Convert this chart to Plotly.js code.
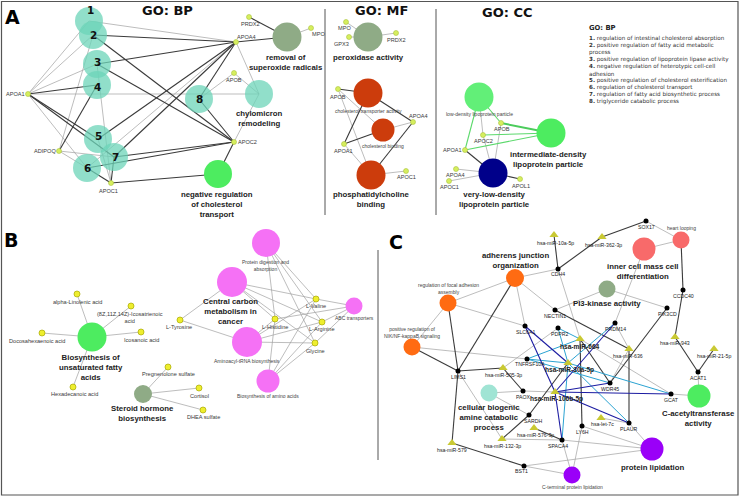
<!DOCTYPE html>
<html><head><meta charset="utf-8">
<script src="https://cdn.plot.ly/plotly-3.0.1.min.js"></script>
<style>html,body{margin:0;padding:0;background:#fff}#chart{width:740px;height:497px}</style>
</head><body><div id="chart"></div>
<script>
// ================= DATA =================
// Term (enriched category) nodes
const termIds = ['bp1','bp2','bp3','bp4','bp5','bp6','bp7','bp8','bpChylo','bpSuper','bpNegChol',
  'mfPerox','mfTrans','mfBind','mfPhos','ccLDL','ccIDL','ccVLDL',
  'bUnsat','bSteroid','bProtein','bCentral','bAminoacyl','bAminoBio','bABC',
  'cAdh','cFocal','cNik','cICM','cHeart','cPI3K','cBiogenic','cAcetyl','cLipid','cCterm'];
const termX = [89,93,97,97,98,87,114,199,259,287,218, 368,368,383,371, 479,551,493,
  92,143,266,232,247,268,354, 515,448,412,644,681,607,489,699,652,572];
const termY = [21,35,64,85,139,168,157,99,94,37,174, 37,93,130,175, 97,133,173,
  337,394,243,282,342,381,306, 278,303,347,249,240,289,393,396,449,475];
const termGroup = ['teal','teal','teal','teal','teal','teal','teal','teal','teal','sage','green',
  'sage','rust','rust','rust','lgreen','green','navy',
  'green','sage','magenta','magenta','magenta','magenta','magenta',
  'orange','orange','orange','salmon','salmon','sage','lteal','green','purple','purple'];
const termDiam = [28,28,28,28,28,28,28,28,28,29,28, 29,29,23,29, 29,29,29,
  29,18,28,30,30,23,17, 18,17,17,23,17,17,17,23,23,17];

// Gene nodes of panel A (GO)
const goGeneIds = ['bpAPOA1','bpAPOA4','bpAPOB','bpAPOC2','bpAPOC1','bpADIPOQ','bpPRDX2','bpMPO',
  'mfMPO','mfGPX3','mfPRDX2','mfAPOB','mfAPOA4','mfAPOA1','mfAPOC1',
  'ccAPOB','ccAPOC2','ccAPOA1','ccAPOA4','ccAPOC1','ccAPOL1'];
const goGeneX = [28,236,234,234,111,59,249,311, 346,349,396,338,413,344,406, 501,483,465,456,449,520];
const goGeneY = [94,42,73,142,183,151,17,28, 22,37,33,89,122,144,171, 123,135,150,169,181,179];

// Metabolite nodes of panel B
const metIds = ['bAlpha','bIcosatri','bDocosa','bIcosanoic','bHexadec','bPreg','bCortisol','bDHEA',
  'bTyr','bVal','bHis','bArg','bGly'];
const metX = [77,131,42,141,73,168,199,203,180,316,275,322,315];
const metY = [294,306,333,332,387,367,388,410,320,299,319,322,343];

// Gene nodes of panel C
const cGeneIds = ['SOX17','CDH4','NECTIN1','SLC6A1','PDPR2','PRDM14','PIK3CD','CCDC40','TNFRSF10A','LIMS1',
  'PAOX','SARDH','WDR45','GCAT','ACAT1','LY6H','PLAUR','SPACA4','BST1'];
const cGeneX = [646,558,555,525,558,615,667,683,527,458,523,529,610,671,698,582,629,562,524];
const cGeneY = [221,269,310,326,328,323,308,290,359,371,391,415,383,394,372,426,423,440,466];

// miRNA nodes of panel C
const mirIds = ['m10a','m362','m943','m21','m636','m664','m30a','m106b','m505','m576','m132','m579','let7c'];
const mirX = [554,602,675,714,629,580,568,555,503,534,502,452,601];
const mirY = [235,237,337,349,349,339,363,392,368,428,439,443,418];

// Edges: [from, to, kind]  kind: k=dark, l=light, g=green, G=green thick, b=navy, c=cyan
const edgesBP = [
  ['bpAPOA1','bp1','l'],['bpAPOA1','bp2','l'],['bpAPOA1','bp3','l'],['bpAPOA1','bp4','k'],['bpAPOA1','bp5','k'],
  ['bpAPOA1','bp6','l'],['bpAPOA1','bp7','k'],['bpAPOA1','bpChylo','l'],
  ['bpAPOA4','bp1','l'],['bpAPOA4','bp2','k'],['bpAPOA4','bp3','k'],['bpAPOA4','bp5','k'],['bpAPOA4','bp6','l'],
  ['bpAPOA4','bp7','k'],['bpAPOA4','bp8','k'],['bpAPOA4','bpChylo','l'],['bpAPOA4','bpSuper','k'],
  ['bpAPOC2','bp2','k'],['bpAPOC2','bp3','k'],['bpAPOC2','bp6','k'],['bpAPOC2','bp7','k'],['bpAPOC2','bp8','k'],
  ['bpAPOC2','bpChylo','l'],['bpAPOC2','bpNegChol','k'],
  ['bpAPOB','bp8','l'],['bpAPOB','bpChylo','l'],
  ['bpAPOC1','bp3','l'],['bpAPOC1','bp5','l'],['bpAPOC1','bp6','k'],['bpAPOC1','bp7','k'],['bpAPOC1','bpNegChol','k'],
  ['bpADIPOQ','bp2','l'],['bpADIPOQ','bp4','k'],['bpADIPOQ','bp6','l'],['bpADIPOQ','bp7','l'],
  ['bpPRDX2','bpSuper','k'],['bpMPO','bpSuper','l']];
const edgesMF = [
  ['mfMPO','mfPerox','l'],['mfGPX3','mfPerox','l'],['mfPRDX2','mfPerox','l'],
  ['mfAPOB','mfTrans','k'],['mfAPOA1','mfTrans','k'],['mfAPOA4','mfTrans','k'],['mfAPOA1','mfBind','k'],
  ['mfAPOA4','mfBind','l'],['mfAPOA1','mfPhos','l'],['mfAPOA4','mfPhos','k'],['mfAPOC1','mfPhos','l'],
  ['mfAPOB','mfBind','l'],['mfAPOB','mfPhos','l']];
const edgesCC = [
  ['ccAPOB','ccIDL','G'],['ccAPOC2','ccIDL','g'],['ccAPOA1','ccIDL','g'],['ccAPOB','ccLDL','g'],['ccAPOA1','ccLDL','g'],
  ['ccAPOC2','ccLDL','l'],['ccAPOA1','ccVLDL','k'],['ccAPOA4','ccVLDL','l'],['ccAPOC1','ccVLDL','l'],
  ['ccAPOL1','ccVLDL','k'],['ccAPOB','ccVLDL','l'],['ccAPOC2','ccVLDL','l']];
const edgesB = [
  ['bUnsat','bAlpha','l'],['bUnsat','bIcosatri','l'],['bUnsat','bDocosa','l'],['bUnsat','bIcosanoic','l'],['bUnsat','bHexadec','l'],
  ['bSteroid','bPreg','l'],['bSteroid','bCortisol','l'],['bSteroid','bDHEA','l'],
  ['bTyr','bCentral','l'],['bTyr','bAminoacyl','l'],
  ['bVal','bProtein','l'],['bVal','bCentral','l'],['bVal','bAminoacyl','l'],['bVal','bAminoBio','l'],['bVal','bABC','l'],
  ['bHis','bProtein','l'],['bHis','bCentral','l'],['bHis','bAminoacyl','l'],['bHis','bAminoBio','l'],['bHis','bABC','l'],
  ['bArg','bProtein','l'],['bArg','bCentral','l'],['bArg','bAminoacyl','l'],['bArg','bAminoBio','l'],['bArg','bABC','l'],
  ['bGly','bProtein','l'],['bGly','bCentral','l'],['bGly','bAminoacyl','l'],['bGly','bAminoBio','l'],['bGly','bABC','l']];
const edgesC = [
  ['cAdh','CDH4','l'],['cAdh','NECTIN1','l'],['cAdh','SLC6A1','l'],['cAdh','LIMS1','k'],['cAdh','cFocal','l'],
  ['cFocal','SLC6A1','l'],['cFocal','LIMS1','k'],['cFocal','cNik','l'],['cNik','LIMS1','k'],['cNik','TNFRSF10A','l'],
  ['LIMS1','m505','k'],['LIMS1','m132','l'],['LIMS1','m579','k'],['m505','PAOX','k'],['m505','PDPR2','l'],
  ['PAOX','cBiogenic','l'],['SARDH','cBiogenic','l'],['PAOX','m106b','l'],['SARDH','m132','k'],['SARDH','m30a','k'],
  ['m132','SPACA4','l'],['m576','SPACA4','k'],['m579','BST1','k'],
  ['BST1','cLipid','l'],['BST1','cCterm','l'],['SPACA4','cCterm','l'],['SPACA4','cLipid','l'],['LY6H','cCterm','l'],
  ['LY6H','cLipid','l'],['PLAUR','cLipid','l'],['let7c','PLAUR','l'],
  ['m10a','CDH4','k'],['CDH4','m664','l'],['m664','LY6H','k'],['m362','SOX17','k'],['m362','CDH4','k'],
  ['SOX17','cHeart','l'],['cICM','cHeart','l'],['cHeart','CCDC40','k'],['CCDC40','m943','k'],['m943','ACAT1','k'],
  ['m21','ACAT1','k'],['ACAT1','cAcetyl','l'],['GCAT','cAcetyl','l'],['cICM','PRDM14','l'],['cPI3K','PIK3CD','l'],
  ['cPI3K','NECTIN1','l'],['PIK3CD','WDR45','k'],['NECTIN1','m636','k'],['PRDM14','m636','l'],['m636','PLAUR','k'],
  ['m636','WDR45','l'],['m664','WDR45','k'],['m664','GCAT','l'],
  ['SLC6A1','m106b','b'],['PRDM14','m106b','b'],['m106b','GCAT','b'],['m106b','SPACA4','b'],['m106b','PLAUR','b'],
  ['m106b','WDR45','b'],['SLC6A1','m30a','b'],
  ['m30a','PDPR2','c'],['m30a','TNFRSF10A','c'],['m30a','GCAT','c'],['m30a','PLAUR','c'],['m30a','SPACA4','c'],
  ['m664','PDPR2','c'],['m664','TNFRSF10A','c'],['m30a','PRDM14','c'],['TNFRSF10A','WDR45','c']];

// Labels: [text, x, y]
const termLabels = [
  ['removal of<br>superoxide radicals',286,62],['chylomicron<br>remodeling',259,118],
  ['negative regulation<br>of cholesterol<br>transport',217,204],['peroxidase activity',368,57],
  ['phosphatidylcholine<br>binding',371,199],['intermediate-density<br>lipoprotein particle',548,159],
  ['very-low-density<br>lipoprotein particle',494,199],['Biosynthesis of<br>unsaturated fatty<br>acids',91,367],
  ['Steroid hormone<br>biosynthesis',142,413],['Central carbon<br>metabolism in<br>cancer',230,311],
  ['adherens junction<br>organization',515,260],['inner cell mass cell<br>differentiation',643,271],
  ['PI3-kinase activity',607,303],['cellular biogenic<br>amine catabolic<br>process',489,417],
  ['C-acetyltransferase<br>activity',698,418],['protein lipidation',652,467]];
const smallTermLabels = [
  ['cholesterol transporter activity',368,111],['cholesterol binding',383,146],
  ['low-density lipoprotein particle',479,114],['Protein digestion and<br>absorption',265,265],
  ['Aminoacyl-tRNA biosynthesis',247,361],['Biosynthesis of amino acids',268,396],['ABC transporters',354,318],
  ['regulation of focal adhesion<br>assembly',448,288],['positive regulation of<br>NIK/NF-kappaB signaling',412,332],
  ['heart looping',681,228],['C-terminal protein lipidation',572,487]];
const geneLabels = [
  ['APOA1',15,94],['ADIPOQ',45,151],['APOC1',108,191],['APOC2',247,142],['APOB',234,80],['APOA4',246,37],
  ['PRDX2',250,24],['MPO',318,34],
  ['MPO',344,28],['GPX3',341,44],['PRDX2',396,40],['APOB',338,97],['APOA4',418,116],['APOA1',343,151],['APOC1',406,177],
  ['APOB',502,129],['APOC2',483,141],['APOA1',452,150],['APOA4',455,175],['APOC1',449,187],['APOL1',521,186],
  ['alpha-Linolenic acid',77,302],['(8Z,11Z,14Z)-Icosatrienoic<br>acid',130,317],['Docosahexaenoic acid',37,341],
  ['Icosanoic acid',141,340],['Hexadecanoic acid',74,394],['Pregnenolone sulfate',168,374],['Cortisol',199,396],
  ['DHEA sulfate',203,417],['L-Tyrosine',179,327],['L-Valine',316,306],['L-Histidine',275,327],['L-Arginine',322,329],
  ['Glycine',315,351]];
const cLabels = [
  ['SOX17',646,227],['CDH4',558,274],['NECTIN1',555,316],['SLC6A1',525,332],['PDPR2',559,334],['PRDM14',615,329],
  ['PIK3CD',667,314],['CCDC40',683,296],['TNFRSF10A',530,364],['LIMS1',458,377],['PAOX',523,397],['SARDH',533,421],
  ['WDR45',610,389],['GCAT',671,400],['ACAT1',698,378],['LY6H',582,432],['PLAUR',629,429],['SPACA4',558,446],
  ['BST1',521,471],
  ['hsa-miR-10a-5p',555,243],['hsa-miR-362-3p',603,245],['hsa-miR-943',675,343],['hsa-miR-21-5p',714,356],
  ['hsa-miR-636',628,356],['hsa-miR-505-3p',503,375],['hsa-miR-576-3p',535,435],['hsa-miR-132-3p',502,446],
  ['hsa-miR-579',452,450],['hsa-let-7c',602,424]];
const cBoldLabels = [['hsa-miR-664',580,346],['hsa-miR-30a-5p',569,370],['hsa-miR-106b-5p',556,399]];
const numberLabels = [['1',90,10],['2',93,35],['3',97,62],['4',97,87],['5',98,136],['6',87,168],['7',115,157],['8',199,99]];
const panelTitles = [['GO: BP',167,10],['GO: MF',381,10],['GO: CC',507,12]];
const panelLetters = [['A',12,17],['B',11,240],['C',396,242]];
const legendTitle = 'GO: BP';
const legendLines = ['<b>1.</b> regulation of intestinal cholesterol absorption',
  '<b>2.</b> positive regulation of fatty acid metabolic','process',
  '<b>3.</b> positive regulation of lipoprotein lipase activity',
  '<b>4.</b> negative regulation of heterotypic cell-cell','adhesion',
  '<b>5.</b> positive regulation of cholesterol esterification',
  '<b>6.</b> regulation of cholesterol transport',
  '<b>7.</b> regulation of fatty acid biosynthetic process',
  '<b>8.</b> triglyceride catabolic process'];

// ================= STYLES =================
const groupColor = {teal:'rgba(108,212,184,0.75)', sage:'#8fab86', green:'#4dec60', lgreen:'#62ef78',
  rust:'#cc3c0c', navy:'#00008a', magenta:'#f571f5', orange:'#ff6b12', salmon:'#f86a6a',
  lteal:'#a0e4d4', purple:'#9a00f8'};
const edgeStyle = {k:{c:'#3a3a3a',w:1.1}, l:{c:'#a0a0a0',w:0.7}, g:{c:'#5cd96c',w:1.1}, G:{c:'#4ccc5c',w:2},
  b:{c:'#1c1ca2',w:1.1}, c:{c:'#2ba3d2',w:1.0}};
const SANS = 'Liberation Sans, Arial, sans-serif';
const DJ = 'DejaVu Sans, Verdana, sans-serif';

// ================= BUILD =================
const pos = {};
function reg(ids, xs, ys){ ids.forEach((id,i)=>{pos[id]=[xs[i],ys[i]];}); }
reg(termIds, termX, termY); reg(goGeneIds, goGeneX, goGeneY); reg(metIds, metX, metY);
reg(cGeneIds, cGeneX, cGeneY); reg(mirIds, mirX, mirY);

const traces = [];
const allEdges = edgesBP.concat(edgesMF, edgesCC, edgesB, edgesC);
['l','k','g','G','c','b'].forEach(kind=>{
  const xs=[], ys=[];
  allEdges.filter(e=>e[2]===kind).forEach(e=>{
    const a=pos[e[0]], b=pos[e[1]];
    xs.push(a[0],b[0],null); ys.push(a[1],b[1],null);
  });
  traces.push({type:'scatter',mode:'lines',x:xs,y:ys,hoverinfo:'skip',
    line:{color:edgeStyle[kind].c,width:edgeStyle[kind].w}});
});
termIds.forEach((id,i)=>{
  traces.push({type:'scatter',mode:'markers',x:[termX[i]],y:[termY[i]],hoverinfo:'skip',
    marker:{size:termDiam[i],color:groupColor[termGroup[i]],line:{width:0}}});
});
traces.push({type:'scatter',mode:'markers',x:goGeneX,y:goGeneY,hoverinfo:'skip',
  marker:{size:5,color:'#d6ee5e',line:{color:'#aac33e',width:0.6}}});
traces.push({type:'scatter',mode:'markers',x:metX,y:metY,hoverinfo:'skip',
  marker:{size:6,color:'#eeee2e',line:{color:'#a8a800',width:0.7}}});
traces.push({type:'scatter',mode:'markers',x:cGeneX,y:cGeneY,hoverinfo:'skip',
  marker:{size:5,color:'#000'}});
traces.push({type:'scatter',mode:'markers',x:mirX,y:mirY,hoverinfo:'skip',
  marker:{size:8,symbol:'triangle-up',color:'#c9c933',line:{width:0}}});

const ann = [];
function addLabels(list, font, extra){
  list.forEach(l=>ann.push(Object.assign({text:l[0],x:l[1],y:l[2],xref:'x',yref:'y',showarrow:false,
    xanchor:'center',yanchor:'middle',font:font},extra||{})));
}
addLabels(termLabels.map(l=>['<b>'+l[0].split('<br>').join('</b><br><b>')+'</b>',l[1],l[2]]),
  {family:SANS,size:7.8,color:'#222'});
addLabels(smallTermLabels,{family:SANS,size:5,color:'#444'});
addLabels(geneLabels,{family:SANS,size:5.6,color:'#3a3a3a'});
addLabels(cLabels,{family:SANS,size:5.2,color:'#222'});
addLabels(cBoldLabels.map(l=>['<b>'+l[0]+'</b>',l[1],l[2]]),{family:SANS,size:6.6,color:'#222'});
addLabels(numberLabels.map(l=>['<b>'+l[0]+'</b>',l[1],l[2]]),{family:DJ,size:10.5,color:'#111'});
addLabels(panelTitles.map(l=>['<b>'+l[0]+'</b>',l[1],l[2]]),{family:DJ,size:13,color:'#111'});
addLabels(panelLetters.map(l=>['<b>'+l[0]+'</b>',l[1],l[2]]),{family:DJ,size:19,color:'#000'});
ann.push({text:'<b>'+legendTitle+'</b>',x:587,y:28,xref:'x',yref:'y',showarrow:false,xanchor:'left',yanchor:'middle',
  font:{family:DJ,size:6.8,color:'#222'}});
legendLines.forEach((t,i)=>ann.push({text:t,x:587,y:38+i*7.1,xref:'x',yref:'y',showarrow:false,
  xanchor:'left',yanchor:'middle',font:{family:DJ,size:5.6,color:'#333'}}));

const shapes = [
  {type:'rect',xref:'x',yref:'y',x0:1.5,y0:1.5,x1:738,y1:495,line:{color:'#555',width:1.2}},
  {type:'line',xref:'x',yref:'y',x0:325,y0:9,x1:325,y1:215,line:{color:'#555',width:1}},
  {type:'line',xref:'x',yref:'y',x0:436,y0:9,x1:436,y1:215,line:{color:'#555',width:1}},
  {type:'line',xref:'x',yref:'y',x0:378,y0:250,x1:378,y1:460,line:{color:'#555',width:1}}];

const layout = {width:740,height:497,margin:{l:0,r:0,t:0,b:0},showlegend:false,hovermode:false,
  paper_bgcolor:'#fff',plot_bgcolor:'#fff',
  xaxis:{range:[0,740],visible:false,fixedrange:true},
  yaxis:{range:[497,0],visible:false,fixedrange:true},
  annotations:ann,shapes:shapes};
Plotly.newPlot('chart',traces,layout,{staticPlot:true});
</script></body></html>
